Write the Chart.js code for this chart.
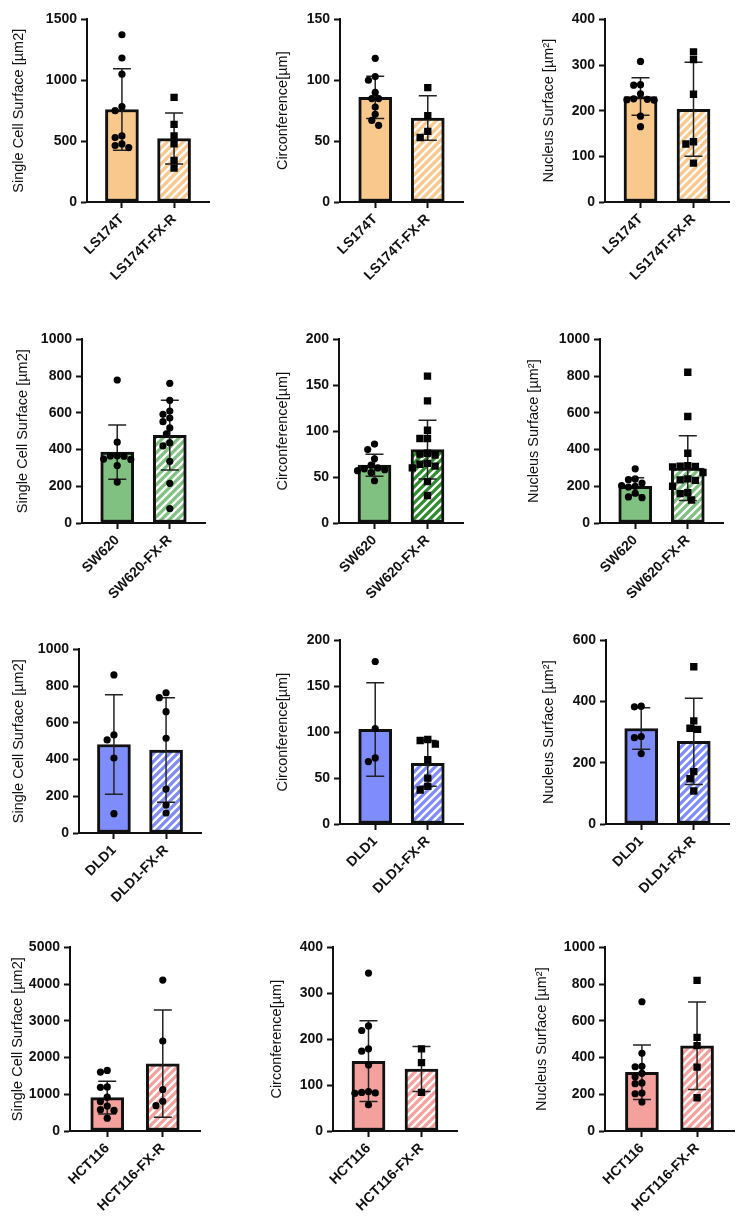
<!DOCTYPE html>
<html>
<head>
<meta charset="utf-8">
<script src="https://cdn.jsdelivr.net/npm/chart.js@4.4.1/dist/chart.umd.min.js"></script>
<style>
  html, body { margin: 0; padding: 0; background: #fff; }
  #page { position: relative; width: 737px; height: 1223px; overflow: hidden; background: #fff; }
  #page canvas { position: absolute; }
</style>
</head>
<body>
<div id="page"></div>
<script>
// rows = cell lines, columns = measurements
const parentLines = ['LS174T', 'SW620', 'DLD1', 'HCT116'];
const resistantLines = ['LS174T-FX-R', 'SW620-FX-R', 'DLD1-FX-R', 'HCT116-FX-R'];
const measureTitles = ['Single Cell Surface [µm2]', 'Circonference[µm]', 'Nucleus Surface [µm²]'];

// y axis range [row][col]
const yMax = [[1500, 150, 400], [1000, 200, 1000], [1000, 200, 600], [5000, 400, 1000]];
const yStep = [[500, 50, 100], [200, 50, 200], [200, 50, 200], [1000, 100, 200]];

// bar = mean, whisker = SD  [parent, FX-R]
const barMeans = [
  [[760, 522], [86, 69], [231, 203]],
  [[386, 478], [63, 80], [200, 299]],
  [[482, 452], [103, 66], [312, 270]],
  [[910, 1832], [152, 135], [320, 464]]
];
const barSD = [
  [[334, 210], [17.4, 18.2], [41, 103]],
  [[148, 190], [12, 32], [47, 176]],
  [[271, 285], [51, 25], [68, 141]],
  [[448, 1460], [88, 49], [148, 238]]
];

// single measurements, parent lines
const parentPoints = [
  [[1374, 1183, 1050, 783, 750, 543, 529, 477, 464, 447],
   [118, 103, 100, 90, 85, 85, 78, 72, 67, 63],
   [308, 257, 256, 237, 226, 225, 224, 223, 188, 165]],
  [[779, 440, 366, 365, 364, 348, 346, 313, 223],
   [86, 80, 70, 63, 60, 59, 58, 57, 55, 46],
   [295, 240, 236, 218, 204, 200, 196, 162, 142, 138]],
  [[861, 534, 507, 408, 105],
   [177, 104, 72, 68],
   [385, 383, 286, 282, 230]],
  [[1650, 1605, 1200, 1190, 920, 800, 680, 580, 560, 350],
   [344, 229, 219, 179, 174, 144, 86, 84, 83, 82, 57],
   [704, 423, 352, 350, 314, 296, 262, 258, 207, 203, 158]]
];

// single measurements, FX-R lines
const resistantPoints = [
  [[859, 638, 543, 477, 341, 278],
   [94, 71, 58, 53],
   [329, 312, 236, 132, 127, 85]],
  [[761, 668, 610, 592, 572, 552, 518, 485, 436, 420, 336, 216, 79],
   [160, 133, 101, 92, 92, 76, 75, 74, 65, 64, 62, 60, 45, 30],
   [821, 580, 380, 312, 310, 308, 306, 275, 240, 235, 232, 200, 165, 160, 125]],
  [[764, 737, 661, 516, 239, 152, 109],
   [92, 91, 87, 70, 50, 41, 37],
   [514, 337, 313, 309, 171, 148, 108]],
  [[4110, 2450, 1130, 810, 690],
   [179, 149, 84],
   [820, 510, 465, 348, 181]]
];

// ---- layout / style ----
// axis box per panel: [y axis x, top, zero line, x axis end, title centre x]
const panelBoxes = [
  [[87, 19, 202, 209, 19], [340, 19, 202, 463, 283], [605, 19, 202, 729, 549]],
  [[82, 339, 523, 205, 23], [339, 339, 523, 463, 283], [600, 339, 523, 723, 534]],
  [[79, 649, 833, 201, 19], [340, 640, 824, 463, 283], [606, 640, 824, 729, 549]],
  [[70, 947, 1131, 200, 18], [333, 947, 1131, 457, 277], [605, 947, 1131, 734, 542]]
];
const rowColors = ['#F8C88C', '#80C080', '#7F8CFB', '#F4A19E'];
const FONT = "'Liberation Sans', Arial, Helvetica, sans-serif";
const INK = '#111';
const X_MIN = -0.67, X_MAX = 1.67;

Chart.defaults.font.family = FONT;
Chart.defaults.color = INK;

function hatch(color) {
  const c = document.createElement('canvas');
  c.width = 8; c.height = 8;
  const g = c.getContext('2d');
  g.fillStyle = color;
  g.fillRect(0, 0, 8, 8);
  g.strokeStyle = '#fff';
  g.lineWidth = 2.4;
  g.beginPath();
  g.moveTo(-2, 10); g.lineTo(10, -2);
  g.moveTo(-2, 2); g.lineTo(2, -2);
  g.moveTo(6, 10); g.lineTo(10, 6);
  g.stroke();
  return g.createPattern(c, 'repeat');
}

// spread dots sideways so they don't overlap (scatter dot plot look)
function swarm(values, pxPerUnit, pxPerCat, diam) {
  const placed = [];
  const out = new Array(values.length);
  const order = values.map((v, i) => i).sort((a, b) => values[b] - values[a]);
  for (const i of order) {
    const py = values[i] * pxPerUnit;
    let off = 0;
    for (let k = 0; k < 30; k++) {
      const cand = k === 0 ? 0 : (k % 2 ? -1 : 1) * Math.ceil(k / 2) * diam * 0.5;
      if (placed.every(p => Math.hypot(p.x - cand, p.y - py) >= diam)) { off = cand; break; }
    }
    placed.push({ x: off, y: py });
    out[i] = off / pxPerCat;
  }
  return out;
}

const errorBars = {
  id: 'errorBars',
  afterDatasetDraw(chart, args, opts) {
    if (args.index !== 0) return;
    const ctx = chart.ctx, y = chart.scales.y;
    const meta = chart.getDatasetMeta(0);
    ctx.save();
    ctx.strokeStyle = '#222';
    ctx.lineWidth = 1.5;
    meta.data.forEach((bar, i) => {
      const m = chart.data.datasets[0].data[i].y;
      const s = opts.sd[i];
      const yt = y.getPixelForValue(m + s), yb = y.getPixelForValue(m - s);
      ctx.beginPath();
      ctx.moveTo(bar.x, yt); ctx.lineTo(bar.x, yb);
      ctx.moveTo(bar.x - 9, yt); ctx.lineTo(bar.x + 9, yt);
      ctx.moveTo(bar.x - 9, yb); ctx.lineTo(bar.x + 9, yb);
      ctx.stroke();
    });
    ctx.restore();
  }
};

const page = document.getElementById('page');

function makePanel(r, c) {
  const [axL, axT, axB, axR, titleX] = panelBoxes[r][c];
  const left = Math.round(titleX - 9);
  const top = axT - 12;
  const yW = axL - left;
  const xH = 90;
  const width = axR - left + 6;
  const height = axB - top + xH;

  const canvas = document.createElement('canvas');
  canvas.width = width; canvas.height = height;
  canvas.style.left = left + 'px';
  canvas.style.top = top + 'px';
  canvas.style.width = width + 'px';
  canvas.style.height = height + 'px';
  page.appendChild(canvas);

  const pxPerCat = (axR - axL) / (X_MAX - X_MIN);
  const pxPerUnit = (axB - axT) / yMax[r][c];
  const labels = [parentLines[r], resistantLines[r]];
  const groups = [parentPoints[r][c], resistantPoints[r][c]];
  const shapes = ['circle', (c === 0 && r > 0) ? 'circle' : 'rect'];
  const hatchColor = (r === 1 && c === 1) ? '#2F8C2F' : rowColors[r];

  const dotSets = groups.map((vals, g) => {
    const diam = shapes[g] === 'rect' ? 7.6 : 6.8;
    const offs = swarm(vals, pxPerUnit, pxPerCat, diam);
    return {
      type: 'scatter',
      data: vals.map((v, i) => ({ x: g + offs[i], y: v })),
      pointStyle: shapes[g],
      pointRadius: shapes[g] === 'rect' ? 5.2 : 3.6,
      pointBackgroundColor: '#000',
      backgroundColor: '#000',
      pointBorderWidth: 0,
      order: 1 - g
    };
  });

  const axisGrid = { display: true, drawOnChartArea: false, drawTicks: true, tickLength: 6, tickWidth: 2, tickColor: INK, offset: false };
  const axisBorder = { display: true, color: INK, width: 2 };

  new Chart(canvas, {
    type: 'bar',
    data: {
      datasets: [{
        type: 'bar',
        data: barMeans[r][c].map((m, i) => ({ x: i, y: m })),
        backgroundColor: [rowColors[r], hatch(hatchColor)],
        borderColor: INK,
        borderWidth: 3,
        borderSkipped: false,
        barThickness: 33,
        order: 2
      }].concat(dotSets)
    },
    options: {
      responsive: false,
      animation: false,
      devicePixelRatio: 1,
      layout: { padding: { top: 12, right: 6, left: 0, bottom: 0 } },
      plugins: {
        legend: { display: false },
        tooltip: { enabled: false },
        errorBars: { sd: barSD[r][c] }
      },
      scales: {
        x: {
          type: 'linear',
          min: X_MIN, max: X_MAX,
          offset: false,
          grid: axisGrid,
          border: axisBorder,
          afterBuildTicks: s => { s.ticks = [{ value: 0 }, { value: 1 }]; },
          afterFit: s => { s.height = xH; },
          ticks: {
            autoSkip: false,
            minRotation: 45, maxRotation: 45,
            padding: 3,
            color: INK,
            font: { size: 14, weight: 'bold' },
            callback: v => labels[v]
          }
        },
        y: {
          min: 0, max: yMax[r][c],
          grid: axisGrid,
          border: axisBorder,
          afterFit: s => { s.width = yW; },
          ticks: {
            stepSize: yStep[r][c],
            padding: 4,
            color: INK,
            font: { size: 14, weight: 'bold' },
            callback: v => String(v)
          },
          title: {
            display: true,
            text: measureTitles[c],
            color: INK,
            padding: 0,
            font: { size: 14.5 }
          }
        }
      }
    },
    plugins: [errorBars]
  });
}

for (let r = 0; r < 4; r++) {
  for (let c = 0; c < 3; c++) makePanel(r, c);
}
</script>
</body>
</html>
